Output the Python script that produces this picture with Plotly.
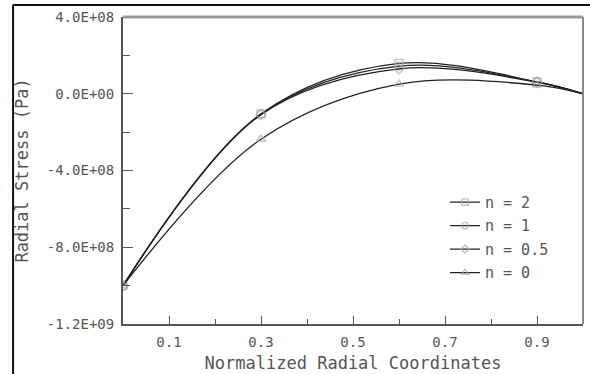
import plotly.graph_objects as go

x = [0.0, 0.3, 0.6, 0.9, 1.0]
n2 = [-1.0e9, -1.05e8, 1.58e8, 0.62e8, 0.0]
n1 = [-1.0e9, -1.07e8, 1.44e8, 0.62e8, 0.0]
n05 = [-1.0e9, -1.09e8, 1.30e8, 0.60e8, 0.0]
n0 = [-1.0e9, -2.37e8, 0.50e8, 0.45e8, 0.0]

series = [("n = 2", n2, "square-open"), ("n = 1", n1, "circle-open"),
          ("n = 0.5", n05, "diamond-open"), ("n = 0", n0, "triangle-up-open")]

yticks = [-1.2e9, -8e8, -4e8, 0, 4e8]
yticktext = ["-1.2E+09", "-8.0E+08", "-4.0E+08", "0.0E+00", "4.0E+08"]
xticks = [0.1, 0.3, 0.5, 0.7, 0.9]
xticktext = ["0.1", "0.3", "0.5", "0.7", "0.9"]

font = "DejaVu Sans Mono"
fig = go.Figure()
for i, (name, ys, sym) in enumerate(series):
    sizes = [8, 8, 8, 8, 0]
    fig.add_trace(go.Scatter(
        x=x, y=ys, name=name, mode="lines+markers", legendgroup=f"g{i}",
        line=dict(color="#222", width=1.3, shape="spline", smoothing=1.0),
        marker=dict(symbol=sym, size=sizes, color="#aaa", line=dict(color="#aaa", width=1.4)),
    ))

fig.update_layout(
    width=590, height=374,
    margin=dict(l=123, r=7, t=17, b=50),
    paper_bgcolor="white", plot_bgcolor="white",
    font=dict(family=font, size=14, color="#555"),
    showlegend=True,
    legend=dict(x=0.70, y=0.45, xanchor="left", yanchor="top",
                bgcolor="rgba(0,0,0,0)", font=dict(family=font, size=15, color="#555"),
                tracegroupgap=1),
    xaxis=dict(range=[0, 1], tickvals=xticks, ticktext=xticktext,
               ticks="inside", ticklen=8, tickcolor="#555", showgrid=False,
               zeroline=False, showline=True, linecolor="#555", linewidth=2,
               tickfont=dict(size=14), ticklabelstandoff=4, automargin=False,
               minor=dict(ticks="inside", ticklen=5, tickvals=[0.2, 0.4, 0.6, 0.8], tickcolor="#555"),
               title=dict(text="Normalized Radial Coordinates", font=dict(family=font, size=17, color="#555"), standoff=8)),
    yaxis=dict(range=[-1.2e9, 4e8], tickvals=yticks, ticktext=yticktext,
               ticks="inside", ticklen=10, tickcolor="#555", showgrid=False,
               zeroline=False, showline=True, linecolor="#555", linewidth=2,
               tickfont=dict(size=14), ticklabelstandoff=4, automargin=False,
               minor=dict(ticks="inside", ticklen=7, tickvals=[-1e9, -6e8, -2e8, 2e8], tickcolor="#555"),
               title=dict(text="Radial Stress (Pa)", font=dict(family=font, size=17, color="#555"), standoff=14)),
)
fig.add_shape(type="line", xref="paper", yref="paper", x0=0, x1=1, y0=1, y1=1,
              line=dict(color="#999", width=3))
fig.add_shape(type="line", xref="paper", yref="paper", x0=1, x1=1, y0=0, y1=1,
              line=dict(color="#888", width=2))
fig.add_shape(type="line", xref="paper", yref="paper", x0=-0.24, x1=1.02, y0=1.039, y1=1.039,
              line=dict(color="#111", width=2))
fig.add_shape(type="line", xref="paper", yref="paper", x0=-0.239, x1=-0.239, y0=-0.2, y1=1.039,
              line=dict(color="#111", width=2))

fig.write_html("out.html")
